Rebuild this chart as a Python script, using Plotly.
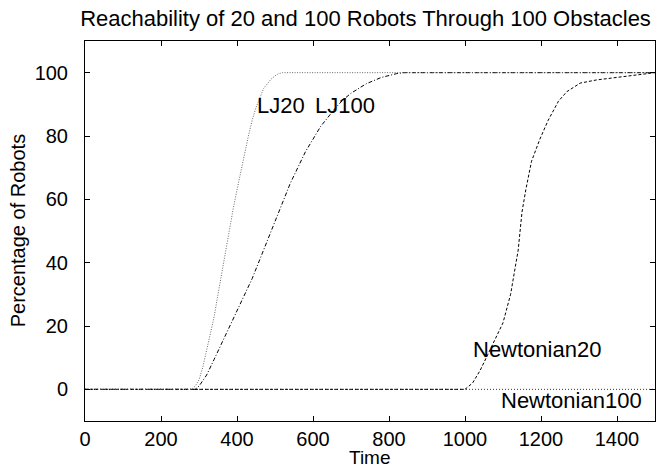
import plotly.graph_objects as go

# ---- data ----
lj20_t = [0, 280, 290, 300, 310, 320, 330, 340, 350, 360, 370, 380, 390, 400, 410, 420,
          430, 440, 450, 460, 470, 480, 490, 500, 510, 520, 1500]
lj20_v = [0, 0, 1, 3, 7, 12, 17, 23, 30, 37, 44, 51, 57, 63, 69, 75,
          80, 85, 89, 92, 95, 96.5, 98, 99, 99.7, 100, 100]

lj100_t = [0, 290, 300, 320, 340, 360, 380, 400, 420, 440, 460, 480, 500, 520, 540, 560,
           580, 600, 620, 640, 660, 680, 700, 740, 780, 820, 840, 1500]
lj100_v = [0, 0, 1, 4.5, 9.5, 14.5, 19.5, 24.5, 29.5, 35, 41, 47, 53, 59, 65, 70,
           75, 79, 83, 86, 89, 91.5, 93.5, 96.5, 98.5, 99.7, 100, 100]

newt20_t = [0, 1000, 1020, 1040, 1060, 1080, 1100, 1120, 1140, 1150, 1160, 1175, 1197,
            1219, 1246, 1268, 1303, 1346, 1408, 1450, 1490, 1500]
newt20_v = [0, 0, 2, 6, 11, 16, 21, 30, 44, 56, 63, 72, 79,
            85, 91, 94, 96.7, 97.7, 98.7, 99.3, 100, 100]

newt100_t = [0, 1500]
newt100_v = [0, 0]

x_ticks = [0, 200, 400, 600, 800, 1000, 1200, 1400]
y_ticks = [0, 20, 40, 60, 80, 100]

labels = ["LJ20", "LJ100", "Newtonian20", "Newtonian100"]
label_x = [448, 601, 1016, 1090]
label_y = [89.7, 89.7, 12.6, -3.5]

FONT = "Liberation Sans, Arial, Helvetica, sans-serif"

fig = go.Figure()
fig.add_trace(go.Scatter(x=newt100_t, y=newt100_v, mode="lines",
                         line=dict(color="#333", width=1, dash="1px,2px")))
fig.add_trace(go.Scatter(x=newt20_t, y=newt20_v, mode="lines",
                         line=dict(color="black", width=1, dash="3px,2px")))
fig.add_trace(go.Scatter(x=lj100_t, y=lj100_v, mode="lines",
                         line=dict(color="black", width=1, dash="4px,2px,1px,2px")))
fig.add_trace(go.Scatter(x=lj20_t, y=lj20_v, mode="lines",
                         line=dict(color="#666", width=1, dash="1px,1.5px")))

for txt, lx, ly in zip(labels, label_x, label_y):
    fig.add_annotation(x=lx, y=ly, text=txt, showarrow=False, xanchor="left",
                       yanchor="middle", font=dict(size=22, color="black", family=FONT))

fig.add_annotation(text="Time", xref="paper", yref="paper", x=0.5, y=-0.097,
                   showarrow=False, yanchor="middle", xanchor="center",
                   font=dict(size=19, color="black", family=FONT))
fig.add_annotation(text="Percentage of Robots", xref="paper", yref="paper",
                   x=-0.117, y=0.5, textangle=-90, showarrow=False,
                   xanchor="center", yanchor="middle",
                   font=dict(size=20, color="black", family=FONT))

axis_common = dict(showgrid=False, zeroline=False, showline=True, linecolor="black",
                   linewidth=1, mirror="ticks", ticks="inside", ticklen=5,
                   tickcolor="black", tickfont=dict(size=20, color="black", family=FONT))

fig.update_layout(
    width=661, height=468,
    margin=dict(l=85, r=6, t=41, b=47),
    paper_bgcolor="white", plot_bgcolor="white",
    showlegend=False,
    title=dict(text="Reachability of 20 and 100 Robots Through 100 Obstacles",
               x=(80 + 651) / 2 / 661, xanchor="center", y=1 - 18 / 468, yanchor="middle",
               font=dict(size=22, color="black", family=FONT)),
    xaxis=dict(range=[0, 1500], tickvals=x_ticks, **axis_common),
    yaxis=dict(range=[-10, 110], tickvals=y_ticks, ticklabelstandoff=12, **axis_common),
)

fig.write_html("out.html")
